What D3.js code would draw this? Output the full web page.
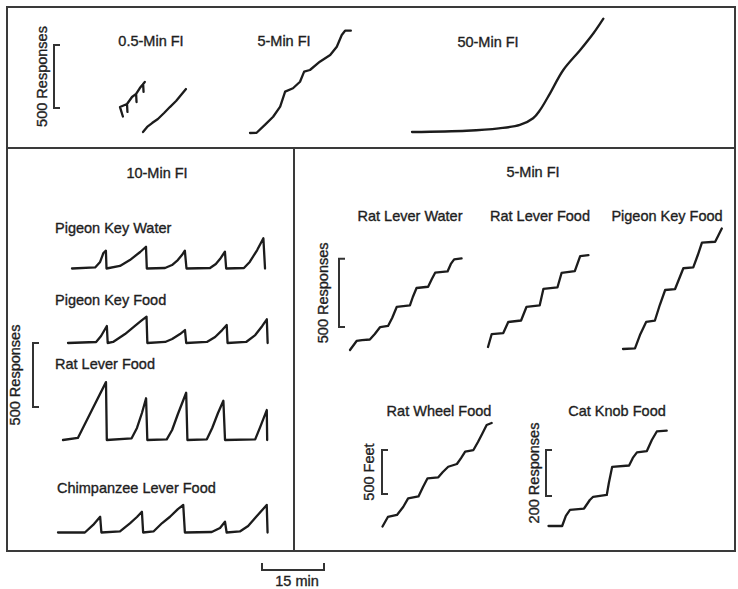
<!DOCTYPE html>
<html>
<head>
<meta charset="utf-8">
<script src="https://cdn.jsdelivr.net/npm/d3@7"></script>
<style>
  html, body { margin: 0; padding: 0; background: #fff; }
  svg text {
    font-family: "Liberation Sans", Arial, Helvetica, sans-serif;
    font-size: 14.5px;
    fill: #1e1e1e;
    stroke: #1e1e1e;
    stroke-width: 0.35px;
  }
</style>
</head>
<body>
<svg id="chart" width="738" height="589"></svg>
<script>
// Cumulative records: time in minutes, cumulative count (responses / feet).
// Pen resets and reinforcement pips appear as drops at (nearly) the same time.

// --- Top row ---
const fi05aT = [0.7, 0, 1.7, 1.8, 1.7, 2.9, 3.9, 4.0, 3.9, 4.8, 5.6, 5.7, 5.6, 6.0];
const fi05aR = [4, 79, 103, 40, 103, 159, 183, 119, 183, 230, 262, 199, 262, 278];
const fi05bT = [0, 1, 2.2, 3.6, 5.1, 6.5, 8, 9.2, 10.4];
const fi05bR = [0, 40, 71, 103, 151, 198, 246, 294, 341];
const fi5T = [0, 1.6, 3.6, 5.6, 7.3, 8.5, 10.4, 12.1, 13.1, 14.5, 16.9, 19.4, 21, 22.2, 23, 24.4];
const fi5R = [0, 2, 64, 129, 209, 328, 355, 407, 487, 500, 566, 619, 685, 778, 812, 812];
const fi50T = [0, 13.2, 21, 26.1, 29.3, 31, 33.4, 36.6, 40.7, 43.9, 46.3];
const fi50R = [0, 10, 29, 56, 109, 175, 307, 492, 651, 784, 900];

// --- 10-Min FI (pen resets after each reinforcement) ---
const pkwT = [0, 5.6, 6.8, 7.6, 8.2, 8.35, 11.6, 14, 16.5, 17.9, 18.1, 22.5, 24.2, 25.6, 26.6, 27.3, 27.7, 33.4, 34.8, 35.8, 37, 37.3, 41.6, 43, 44.8, 46.3, 46.7];
const pkwR = [0, 8, 51, 121, 139, 0, 20, 66, 129, 170, 0, 4, 27, 66, 105, 139, 0, 4, 35, 74, 131, 0, 4, 51, 144, 236, 0];
const pkfT = [0, 6.8, 8, 9.4, 9.6, 10.9, 13.8, 16.2, 17.9, 19, 19.2, 23.5, 25.2, 27.1, 28.3, 28.6, 33.6, 35.6, 37.3, 38.4, 38.6, 43.1, 45.3, 47, 48.1, 48.3];
const pkfR = [0, 8, 55, 133, 0, 8, 70, 133, 179, 205, 0, 8, 31, 70, 101, 0, 8, 47, 101, 140, 0, 8, 62, 133, 185, 0];
const rlfT = [0, 3.6, 7, 10.4, 10.6, 16.6, 17.9, 19.1, 20.1, 20.4, 25.1, 26.4, 27.8, 29.8, 30.1, 34.8, 36.1, 37.5, 38.8, 39.2, 46.5, 47.7, 49.3, 49.4];
const rlfR = [0, 16, 235, 452, 0, 13, 94, 211, 326, 0, 5, 78, 203, 369, 0, 5, 94, 211, 307, 0, 5, 101, 234, 0];
const chT = [0, 6.5, 8.5, 10.2, 10.5, 15, 17.4, 19.1, 20.3, 20.6, 23.1, 25.2, 27.1, 29, 30.3, 30.7, 37.2, 39.2, 40.4, 40.8, 44, 46, 47.9, 50.5, 50.7];
const chR = [0, 0, 59, 123, 0, 8, 72, 121, 162, 0, 8, 74, 123, 183, 215, 0, 4, 35, 84, 0, 8, 51, 121, 215, 0];

// --- 5-Min FI ---
const rlwT = [0, 1.6, 2.9, 4.8, 6, 7.3, 9.2, 10.2, 11.3, 14.5, 15.2, 16.1, 18.9, 19.8, 20.6, 23.6, 24.4, 25.2, 27];
const rlwR = [0, 66, 73, 77, 117, 168, 176, 234, 315, 326, 388, 454, 463, 520, 566, 575, 630, 664, 671];
const rlf5T = [0, 0.9, 3.7, 4.9, 8, 9.3, 12.5, 13.4, 16.8, 17.8, 21, 22.3, 24.3];
const rlf5R = [0, 95, 102, 183, 194, 293, 304, 425, 436, 542, 556, 666, 673];
const pkf5T = [0, 2.9, 4.1, 5.6, 7.7, 8.9, 10.2, 12.6, 14.6, 17, 18.1, 19.1, 22.3, 23, 23.9];
const pkf5R = [0, 4, 102, 198, 207, 322, 432, 439, 591, 597, 688, 778, 785, 827, 882];
const rwfT = [0, 1.3, 3.5, 5, 6.2, 8.7, 9.8, 10.9, 13.5, 14.6, 15.9, 18, 19, 20, 22, 23.1, 24.1, 25.2, 26.4];
const rwfR = [0, 108, 131, 222, 320, 341, 449, 548, 559, 619, 679, 710, 778, 850, 869, 960, 1051, 1153, 1176];
const ckfT = [0, 3.3, 4.2, 5.2, 8.6, 10, 10.8, 14.1, 14.6, 15.4, 19.5, 20.4, 21.4, 23.8, 25, 26.2, 28.6];
const ckfR = [0, 0, 44, 70, 76, 113, 127, 135, 187, 257, 263, 296, 320, 326, 374, 411, 415];

// Titles, record labels and calibration marks
const panelTitles = ["0.5-Min FI", "5-Min FI", "50-Min FI", "10-Min FI", "5-Min FI"];
const recordLabels = ["Pigeon Key Water", "Pigeon Key Food", "Rat Lever Food", "Chimpanzee Lever Food",
                      "Rat Lever Water", "Rat Lever Food", "Pigeon Key Food", "Rat Wheel Food", "Cat Knob Food"];
const calibLabels = ["500 Responses", "500 Responses", "500 Responses", "500 Feet", "200 Responses"];
const calibValues = [500, 500, 500, 500, 200];
const timeBarMinutes = 15;
const timeBarLabel = "15 min";

const svg = d3.select("#chart");
const ink = "#1c1c1c";

// Shared time axis across all records
const minutes = d3.scaleLinear().domain([0, timeBarMinutes]).range([0, 62]);

// Vertical scales, one per calibration
const yTop   = d3.scaleLinear().domain([0, 500]).range([0, 63]);
const y10    = d3.scaleLinear().domain([0, 500]).range([0, 64]);
const y5     = d3.scaleLinear().domain([0, 500]).range([0, 68.3]);
const yFeet  = d3.scaleLinear().domain([0, 500]).range([0, 44]);
const yCat   = d3.scaleLinear().domain([0, 200]).range([0, 46]);

// Frame
const frame = svg.append("g").attr("fill", "none").attr("stroke", "#3a3a3a").attr("stroke-width", 2);
frame.append("rect").attr("x", 7).attr("y", 7).attr("width", 728).attr("height", 544);
frame.append("line").attr("x1", 7).attr("x2", 735).attr("y1", 148).attr("y2", 148);
frame.append("line").attr("x1", 294).attr("x2", 294).attr("y1", 148).attr("y2", 551);

function drawRecord(times, counts, yScale, ox, oy, curve) {
  const pts = times.map((t, i) => [t, counts[i]]);
  const line = d3.line()
    .x(d => ox + minutes(d[0]))
    .y(d => oy - yScale(d[1]))
    .curve(curve || d3.curveLinear);
  svg.append("path")
    .attr("d", line(pts))
    .attr("fill", "none")
    .attr("stroke", ink)
    .attr("stroke-width", 2.3)
    .attr("stroke-linejoin", "round")
    .attr("stroke-linecap", "round");
}

function drawCalibration(yScale, value, x, yBottom, label, labelX) {
  const h = yScale(value);
  svg.append("path")
    .attr("d", `M${x + 6},${yBottom - h}H${x}V${yBottom}H${x + 6}`)
    .attr("fill", "none").attr("stroke", "#333").attr("stroke-width", 2);
  svg.append("text")
    .attr("transform", `translate(${labelX},${yBottom - h / 2}) rotate(-90)`)
    .attr("text-anchor", "middle")
    .attr("dy", "0.35em")
    .text(label);
}

function label(text, x, y, anchor) {
  svg.append("text").attr("x", x).attr("y", y).attr("text-anchor", anchor || "start").text(text);
}

// Top row
label(panelTitles[0], 151, 46, "middle");
label(panelTitles[1], 284, 46, "middle");
label(panelTitles[2], 488, 47, "middle");
drawCalibration(yTop, calibValues[0], 54, 108, calibLabels[0], 42);
drawRecord(fi05aT, fi05aR, yTop, 120, 117);
drawRecord(fi05bT, fi05bR, yTop, 143, 132);
drawRecord(fi5T, fi5R, yTop, 250, 133);
drawRecord(fi50T, fi50R, yTop, 412, 132, d3.curveCatmullRom.alpha(0.5));

// 10-Min FI
label(panelTitles[3], 157, 178, "middle");
label(recordLabels[0], 55, 233);
label(recordLabels[1], 55, 305);
label(recordLabels[2], 55, 369);
label(recordLabels[3], 57, 493);
drawCalibration(y10, calibValues[1], 33, 407, calibLabels[1], 15);
drawRecord(pkwT, pkwR, y10, 72, 268.5);
drawRecord(pkfT, pkfR, y10, 68, 343);
drawRecord(rlfT, rlfR, y10, 63, 440);
drawRecord(chT, chR, y10, 58, 532.5);

// 5-Min FI
label(panelTitles[4], 533, 177, "middle");
label(recordLabels[4], 410, 221, "middle");
label(recordLabels[5], 540, 221, "middle");
label(recordLabels[6], 667, 221, "middle");
label(recordLabels[7], 439, 416, "middle");
label(recordLabels[8], 617, 416, "middle");
drawCalibration(y5, calibValues[2], 339, 327, calibLabels[2], 323);
drawCalibration(yFeet, calibValues[3], 382, 494, calibLabels[3], 369);
drawCalibration(yCat, calibValues[4], 546, 496, calibLabels[4], 534);
drawRecord(rlwT, rlwR, y5, 350, 350);
drawRecord(rlf5T, rlf5R, y5, 488, 347);
drawRecord(pkf5T, pkf5R, y5, 623, 349);
drawRecord(rwfT, rwfR, yFeet, 382.5, 526.5);
drawRecord(ckfT, ckfR, yCat, 548.5, 526);

// Time calibration bar
const bx = 262, by = 570;
svg.append("path")
  .attr("d", `M${bx},${by - 7}V${by}H${bx + minutes(timeBarMinutes)}V${by - 7}`)
  .attr("fill", "none").attr("stroke", "#333").attr("stroke-width", 2);
label(timeBarLabel, 297, 586, "middle");
</script>
</body>
</html>
